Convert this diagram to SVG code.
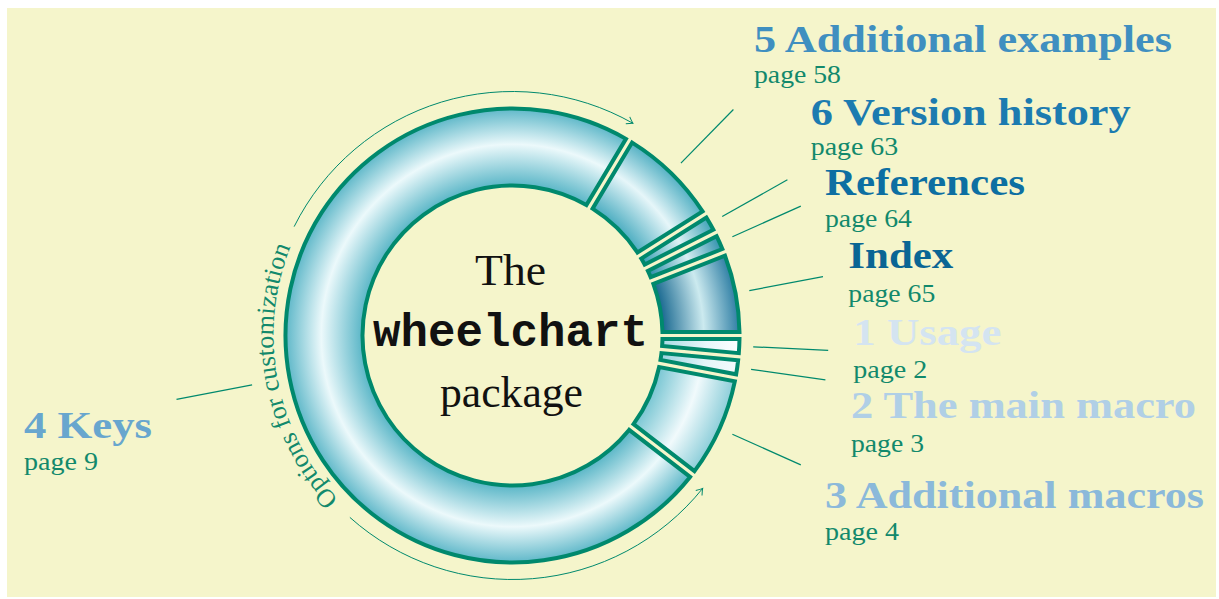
<svg xmlns="http://www.w3.org/2000/svg" width="1219" height="599" viewBox="0 0 1219 599">
<style>
.seg{stroke:#00896D;stroke-width:4;stroke-linejoin:miter}
.hd{font-family:"Liberation Serif",serif;font-weight:bold;font-size:38px}
.pg{font-family:"Liberation Serif",serif;font-size:26px;fill:#12896C}
.ln{stroke:#00896D;stroke-width:1.2;fill:none}
.arc{stroke:#00896D;stroke-width:1;fill:none}
.ctr{font-family:"Liberation Serif",serif;font-size:44px;fill:#111}
.mono{font-family:"Liberation Mono",monospace;font-weight:bold;font-size:46px;fill:#111}
.curv{font-family:"Liberation Serif",serif;font-size:26px;fill:#12896C}
</style>
<defs>
<radialGradient id="gKeys" gradientUnits="userSpaceOnUse" cx="512.5" cy="335.5" r="229">
<stop offset="0.655" stop-color="#5AB6C7"/><stop offset="0.835" stop-color="#ECF9FB"/><stop offset="1" stop-color="#57B4C6"/>
</radialGradient>
<radialGradient id="gAddEx" gradientUnits="userSpaceOnUse" cx="512.5" cy="335.5" r="229">
<stop offset="0.655" stop-color="#4CADC1"/><stop offset="0.835" stop-color="#E6F6F9"/><stop offset="1" stop-color="#4CADC1"/>
</radialGradient>
<radialGradient id="gVer" gradientUnits="userSpaceOnUse" cx="512.5" cy="335.5" r="229">
<stop offset="0.655" stop-color="#3AA0B6"/><stop offset="0.835" stop-color="#DDF2F5"/><stop offset="1" stop-color="#3AA0B6"/>
</radialGradient>
<radialGradient id="gRef" gradientUnits="userSpaceOnUse" cx="512.5" cy="335.5" r="229">
<stop offset="0.655" stop-color="#2A8EAA"/><stop offset="0.835" stop-color="#D6EEF2"/><stop offset="1" stop-color="#2A8EAA"/>
</radialGradient>
<radialGradient id="gIdx" gradientUnits="userSpaceOnUse" cx="512.5" cy="335.5" r="229">
<stop offset="0.655" stop-color="#186890"/><stop offset="0.835" stop-color="#CCEAEF"/><stop offset="1" stop-color="#2578A0"/>
</radialGradient>
<radialGradient id="gUse" gradientUnits="userSpaceOnUse" cx="512.5" cy="335.5" r="229">
<stop offset="0.655" stop-color="#A9DCE6"/><stop offset="0.85" stop-color="#E8F7FA"/><stop offset="1" stop-color="#FFFFFF"/>
</radialGradient>
<radialGradient id="gMain" gradientUnits="userSpaceOnUse" cx="512.5" cy="335.5" r="229">
<stop offset="0.655" stop-color="#9BD4E0"/><stop offset="0.85" stop-color="#E4F5F8"/><stop offset="1" stop-color="#F4FBFC"/>
</radialGradient>
<radialGradient id="gAddMac" gradientUnits="userSpaceOnUse" cx="512.5" cy="335.5" r="229">
<stop offset="0.655" stop-color="#79C6D3"/><stop offset="0.835" stop-color="#F1FAFC"/><stop offset="1" stop-color="#86CBD7"/>
</radialGradient>
<marker id="arr" markerUnits="userSpaceOnUse" markerWidth="12" markerHeight="12" viewBox="-8 -6 10 12" refX="0" refY="0" orient="auto">
<path d="M-6,-4 Q-2,-1 0,0 Q-2,1 -6,4" fill="none" stroke="#00896D" stroke-width="1"/>
</marker>
<path id="tp" d="M 433.704 561.137 A 239 239 0 0 1 356.454 154.473"/>
</defs>
<rect x="7" y="8" width="1209" height="589" fill="#F5F5CB"/>

<g id="connectors">
<line class="ln" x1="753.2" y1="346.8" x2="828.2" y2="350.3"/>
<line class="ln" x1="751.1" y1="369.3" x2="825.4" y2="379.8"/>
<line class="ln" x1="732.4" y1="434.2" x2="800.8" y2="464.9"/>
<line class="ln" x1="252.1" y1="384.9" x2="176.5" y2="399.3"/>
<line class="ln" x1="680.9" y1="163.1" x2="733.4" y2="109.5"/>
<line class="ln" x1="722.2" y1="216.6" x2="787.4" y2="179.7"/>
<line class="ln" x1="732.4" y1="236.8" x2="800.8" y2="206.1"/>
<line class="ln" x1="749.3" y1="290.6" x2="823.0" y2="276.6"/>
<path class="arc" d="M 294.136 226.628 A 244 244 0 0 1 632.981 123.320" marker-end="url(#arr)"/>
<path class="arc" d="M 349.866 517.396 A 244 244 0 0 0 702.658 488.391" marker-end="url(#arr)"/>
</g>

<g id="node-usage">
<path class="seg" fill="url(#gUse)" d="M 738.811 353.170 A 227 227 0 0 0 739.471 339.100 L 662.457 339.100 A 150 150 0 0 1 662.135 345.959 Z"/>
<text class="hd" x="853.3" y="345" fill="#D4E4F1" textLength="148" lengthAdjust="spacingAndGlyphs">1 Usage</text>
<text class="pg" x="853.3" y="378.3" textLength="74" lengthAdjust="spacingAndGlyphs">page 2</text>
</g>

<g id="node-main-macro">
<path class="seg" fill="url(#gMain)" d="M 736.162 374.283 A 227 227 0 0 0 738.137 360.339 L 661.461 353.126 A 150 150 0 0 1 660.498 359.924 Z"/>
<text class="hd" x="851" y="418.3" fill="#B0CFE6" textLength="345" lengthAdjust="spacingAndGlyphs">2 The main macro</text>
<text class="pg" x="851" y="451.7" textLength="73" lengthAdjust="spacingAndGlyphs">page 3</text>
</g>

<g id="node-additional-macros">
<path class="seg" fill="url(#gAddMac)" d="M 694.496 471.171 A 227 227 0 0 0 734.820 381.356 L 659.156 366.998 A 150 150 0 0 1 633.489 424.166 Z"/>
<text class="hd" x="825" y="508.3" fill="#8BB9DA" textLength="379" lengthAdjust="spacingAndGlyphs">3 Additional macros</text>
<text class="pg" x="825" y="540" textLength="74" lengthAdjust="spacingAndGlyphs">page 4</text>
</g>

<g id="node-keys">
<path class="seg" fill="url(#gKeys)" d="M 625.955 138.887 A 227 227 0 1 0 690.076 476.907 L 629.076 429.893 A 150 150 0 1 1 586.406 204.971 Z"/>
<text class="hd" x="24" y="438.3" fill="#68A6CE" textLength="128" lengthAdjust="spacingAndGlyphs">4 Keys</text>
<text class="pg" x="24" y="470" textLength="74" lengthAdjust="spacingAndGlyphs">page 9</text>
<text class="curv"><textPath href="#tp" startOffset="50%" text-anchor="middle">Options for customization</textPath></text>
</g>

<g id="node-additional-examples">
<path class="seg" fill="url(#gAddEx)" d="M 702.566 211.387 A 227 227 0 0 0 632.129 142.580 L 592.585 208.668 A 150 150 0 0 1 637.421 252.466 Z"/>
<text class="hd" x="754" y="51.7" fill="#3F8FC0" textLength="418" lengthAdjust="spacingAndGlyphs">5 Additional examples</text>
<text class="pg" x="754" y="83" textLength="87" lengthAdjust="spacingAndGlyphs">page 58</text>
</g>

<g id="node-version-history">
<path class="seg" fill="url(#gVer)" d="M 713.351 229.726 A 227 227 0 0 0 706.400 217.467 L 641.259 258.552 A 150 150 0 0 1 644.643 264.520 Z"/>
<text class="hd" x="810.7" y="125" fill="#1C7BB0" textLength="320" lengthAdjust="spacingAndGlyphs">6 Version history</text>
<text class="pg" x="810.7" y="155.2" textLength="87.6" lengthAdjust="spacingAndGlyphs">page 63</text>
</g>

<g id="node-references">
<path class="seg" fill="url(#gRef)" d="M 722.369 248.989 A 227 227 0 0 0 716.605 236.151 L 647.900 270.949 A 150 150 0 0 1 650.709 277.206 Z"/>
<text class="hd" x="825" y="194.8" fill="#0D6FA2" textLength="200" lengthAdjust="spacingAndGlyphs">References</text>
<text class="pg" x="825" y="227" textLength="87" lengthAdjust="spacingAndGlyphs">page 64</text>
</g>

<g id="node-index">
<path class="seg" fill="url(#gIdx)" d="M 739.471 331.900 A 227 227 0 0 0 725.007 255.688 L 653.349 283.909 A 150 150 0 0 1 662.457 331.900 Z"/>
<text class="hd" x="848.3" y="267.8" fill="#0A6594" textLength="105" lengthAdjust="spacingAndGlyphs">Index</text>
<text class="pg" x="848.3" y="301.5" textLength="87" lengthAdjust="spacingAndGlyphs">page 65</text>
</g>

<g id="node-center">
<text class="ctr" x="475" y="285" textLength="71" lengthAdjust="spacingAndGlyphs">The</text>
<text class="mono" x="373" y="346" textLength="275" lengthAdjust="spacingAndGlyphs">wheelchart</text>
<text class="ctr" x="440" y="406.7" textLength="143" lengthAdjust="spacingAndGlyphs">package</text>
</g>
</svg>
